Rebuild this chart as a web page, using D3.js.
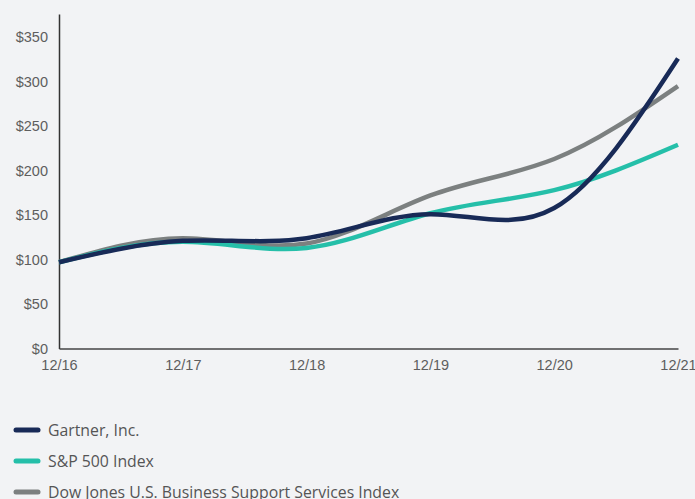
<!DOCTYPE html>
<html>
<head>
<meta charset="utf-8">
<script src="https://cdn.jsdelivr.net/npm/d3@7/dist/d3.min.js"></script>
<style>
  body { margin: 0; background: #f2f3f5; }
  svg { display: block; font-family: "Open Sans", Inter, sans-serif; }
</style>
</head>
<body>
<svg id="chart" width="695" height="499"></svg>
<script>
var years = ["12/16", "12/17", "12/18", "12/19", "12/20", "12/21"];
var gartner = [97, 121, 124, 151, 158, 326];
var sp500 = [97, 120, 113, 152, 178, 229];
var dowJones = [97, 124, 118, 172, 213, 295];
var yTicks = [0, 50, 100, 150, 200, 250, 300, 350];

var series = [
  { name: "Gartner, Inc.", values: gartner, color: "#182a57" },
  { name: "S&P 500 Index", values: sp500, color: "#25bfa9" },
  { name: "Dow Jones U.S. Business Support Services Index", values: dowJones, color: "#7c8080" }
];
// gray first, navy last so it sits on top
var drawOrder = [series[2], series[1], series[0]];

var svg = d3.select("#chart");

var x = d3.scalePoint().domain(years).range([59, 678]);
var y = d3.scaleLinear().domain([0, 376]).range([348.5, 14]);

var yAxis = svg.append("g")
  .attr("transform", "translate(59,0)")
  .call(d3.axisLeft(y).tickValues(yTicks).tickSize(0).tickPadding(11)
    .tickFormat(function(d){ return "$" + d; }));
yAxis.select(".domain").attr("stroke", "#333").attr("stroke-width", 1.5);
yAxis.selectAll("text").attr("fill", "#5e5e5e").style("font-size", "14.5px");

var xAxis = svg.append("g")
  .attr("transform", "translate(0,348.5)")
  .call(d3.axisBottom(x).tickSize(0).tickPadding(11));
xAxis.select(".domain").attr("stroke", "#444").attr("stroke-width", 1.5);
xAxis.selectAll("text").attr("fill", "#5e5e5e").style("font-size", "14.5px");

var line = d3.line()
  .x(function(d, i){ return x(years[i]); })
  .y(function(d){ return y(d); })
  .curve(d3.curveNatural);

svg.append("g").selectAll("path")
  .data(drawOrder)
  .enter()
  .append("path")
  .attr("d", function(d){ return line(d.values); })
  .attr("fill", "none")
  .attr("stroke", function(d){ return d.color; })
  .attr("stroke-width", 4.5);

var legend = svg.append("g").selectAll("g")
  .data(series)
  .enter()
  .append("g")
  .attr("transform", function(d, i){ return "translate(14," + (430 + i * 31) + ")"; });
legend.append("line")
  .attr("x1", 2).attr("x2", 24)
  .attr("stroke", function(d){ return d.color; })
  .attr("stroke-width", 5)
  .attr("stroke-linecap", "round");
legend.append("text")
  .attr("x", 34)
  .attr("dy", "0.35em")
  .attr("fill", "#555")
  .style("font-size", "15.8px")
  .text(function(d){ return d.name; });
</script>
</body>
</html>
